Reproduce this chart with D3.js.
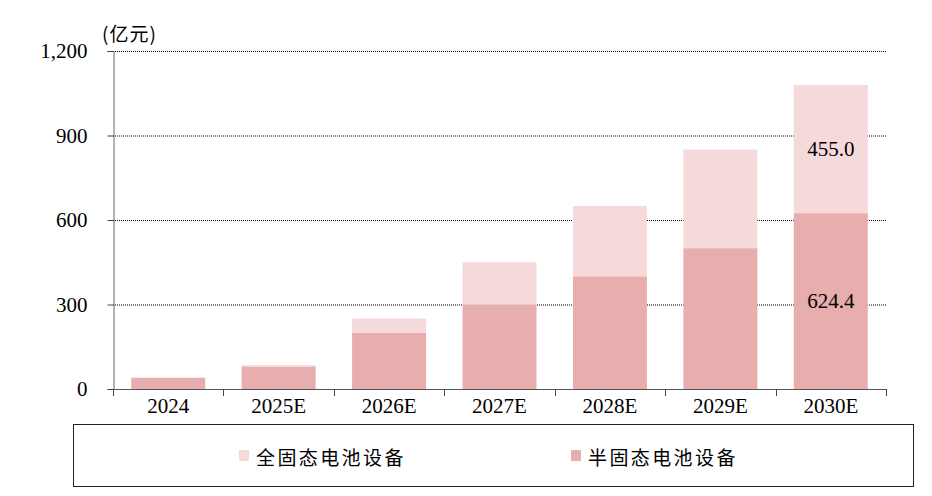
<!DOCTYPE html>
<html><head><meta charset="utf-8">
<script src="https://cdn.jsdelivr.net/npm/d3@7"></script>
<style>body{margin:0;background:#fff;}svg{display:block;}</style>
</head><body><svg id="c" width="932" height="496"></svg>
<script>
const categories = ["2024","2025E","2026E","2027E","2028E","2029E","2030E"];
const semiSolid = [40, 80, 200, 300, 400, 500, 624.4];
const allSolid = [0, 5, 50, 150, 250, 350, 455.0];
const yTicks = [0, 300, 600, 900, 1200];
const seriesNames = ["全固态电池设备", "半固态电池设备"];
const labelled = {"2030E": true};

const svg = d3.select("#c");
const L = 113, R = 886, T = 51, B = 389;
const x = d3.scaleBand().domain(categories).range([L, R]).paddingInner(0.33).paddingOuter(0.165);
const xb = d3.scaleBand().domain(categories).range([L, R]);
const y = d3.scaleLinear().domain([0, 1200]).range([B, T]);
const serif = "'Liberation Serif','Times New Roman',serif";
const cjk = "'Noto Sans CJK SC','Noto Sans CJK JP',sans-serif";
const darkC = "#E8ADAD", lightC = "#F6DADB";
const fs = 21;

// gridlines
svg.append("g").selectAll("line").data(yTicks.filter(d => d > 0)).join("line")
  .attr("x1", L).attr("x2", R).attr("y1", d => y(d)+0.5).attr("y2", d => y(d)+0.5)
  .attr("stroke", "#000").attr("stroke-width", 1).attr("stroke-dasharray", "1,1");

// bars
const g = svg.append("g");
g.selectAll("rect.semi").data(categories).join("rect").attr("class","semi")
  .attr("x", d => x(d)).attr("width", x.bandwidth())
  .attr("y", (d,i) => y(semiSolid[i])).attr("height", (d,i) => y(0) - y(semiSolid[i]))
  .attr("fill", darkC);
g.selectAll("rect.all").data(categories).join("rect").attr("class","all")
  .attr("x", d => x(d)).attr("width", x.bandwidth())
  .attr("y", (d,i) => y(semiSolid[i] + allSolid[i])).attr("height", (d,i) => y(semiSolid[i]) - y(semiSolid[i] + allSolid[i]))
  .attr("fill", lightC);

// value labels
categories.forEach((c, i) => {
  if (!labelled[c]) return;
  const cx = x(c) + x.bandwidth()/2;
  svg.append("text").attr("x", cx).attr("y", y(semiSolid[i]/2)).attr("text-anchor","middle")
    .attr("dominant-baseline","central").attr("font-family", serif).attr("font-size", fs).attr("fill","#000")
    .text(semiSolid[i].toFixed(1));
  svg.append("text").attr("x", cx).attr("y", y(semiSolid[i] + allSolid[i]/2)).attr("text-anchor","middle")
    .attr("dominant-baseline","central").attr("font-family", serif).attr("font-size", fs).attr("fill","#000")
    .text(allSolid[i].toFixed(1));
});

// y axis
const yAxis = svg.append("g").attr("transform", `translate(${L+0.5},0)`)
  .call(d3.axisLeft(y).tickValues(yTicks).tickSize(6).tickPadding(20).tickFormat(d3.format(",")));
yAxis.select(".domain").attr("stroke", "#666");
yAxis.selectAll(".tick line").attr("stroke", "#444");
yAxis.selectAll("text").attr("font-family", serif).attr("font-size", fs).attr("fill", "#000");

// x axis
const xAxis = svg.append("g").attr("transform", `translate(0,${B+0.5})`)
  .call(d3.axisBottom(xb).tickSize(0).tickPadding(9));
xAxis.select(".domain").attr("stroke", "#555").attr("d", `M${L},0H${R}`);
xAxis.selectAll("text").attr("font-family", serif).attr("font-size", fs).attr("fill", "#000");
svg.append("g").selectAll("line").data(categories.concat(["_end"])).join("line")
  .attr("x1", (d,i) => Math.round(L + i*xb.step())+0.5).attr("x2", (d,i) => Math.round(L + i*xb.step())+0.5)
  .attr("y1", B).attr("y2", B+7).attr("stroke", "#444");

// unit label
svg.append("text").attr("x", 102).attr("y", 32).attr("dominant-baseline","central")
  .attr("font-family", cjk).attr("font-size", 19).attr("fill","#000").text("(亿元)").attr("letter-spacing", 1);

// legend
svg.append("rect").attr("x", 73.5).attr("y", 424.5).attr("width", 840).attr("height", 62)
  .attr("fill","none").attr("stroke","#222").attr("stroke-width",1);
const legX = [239, 571];
const legC = [lightC, darkC];
seriesNames.forEach((n, i) => {
  svg.append("rect").attr("x", legX[i]).attr("y", 450).attr("width", 10).attr("height", 11).attr("fill", legC[i]);
  svg.append("text").attr("x", legX[i] + 17).attr("y", 456).attr("dominant-baseline","central")
    .attr("font-family", cjk).attr("font-size", 19).attr("letter-spacing", 2.4).attr("fill","#000").text(n);
});
</script></body></html>
